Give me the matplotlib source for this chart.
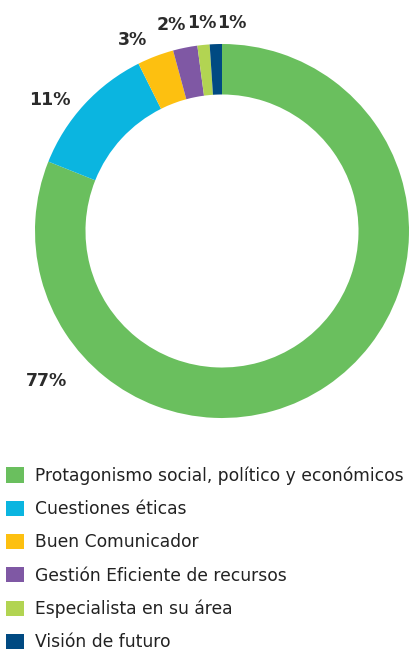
import matplotlib.pyplot as plt

# survey results (share of answers, %)
categorias = ['Protagonismo social, político y económicos', 'Cuestiones éticas',
              'Buen Comunicador', 'Gestión Eficiente de recursos',
              'Especialista en su área', 'Visión de futuro']
valores = [77, 11, 3, 2, 1, 1]
colores = ['#6abf5e', '#0bb5e0', '#fdc010', '#7f58a4', '#b2d452', '#004a82']
etiquetas = ['77%', '11%', '3%', '2%', '1%', '1%']

# label positions (axes data units, pie radius = 1)
pos_etiquetas = [(-0.94, -0.80), (-0.92, 0.70), (-0.48, 1.02), (-0.27, 1.10), (-0.11, 1.11), (0.05, 1.11)]

W, H = 411, 652
fig = plt.figure(figsize=(W / 100, H / 100), dpi=100)
cx, cy, r = 222, 231, 187
ax = fig.add_axes([(cx - r) / W, (H - cy - r) / H, 2 * r / W, 2 * r / H])

wedges, _ = ax.pie(valores, colors=colores, startangle=90, counterclock=False,
                   radius=1, wedgeprops=dict(width=0.27, linewidth=0))
ax.set_xlim(-1, 1)
ax.set_ylim(-1, 1)
ax.axis('off')

for txt, (x, y) in zip(etiquetas, pos_etiquetas):
    ax.text(x, y, txt, ha='center', va='center', fontsize=12.5, fontweight='bold',
            color='#2b2b2b', clip_on=False)

fig.legend(wedges, categorias, loc='upper left', bbox_to_anchor=(3 / W, 1 - 463 / H),
           frameon=False, fontsize=12.3, handlelength=1.0, handleheight=1.0,
           handletextpad=0.68, labelspacing=0.89, borderaxespad=0, borderpad=0.2,
           labelcolor='#222222')

fig.savefig('out.png', dpi=100)
